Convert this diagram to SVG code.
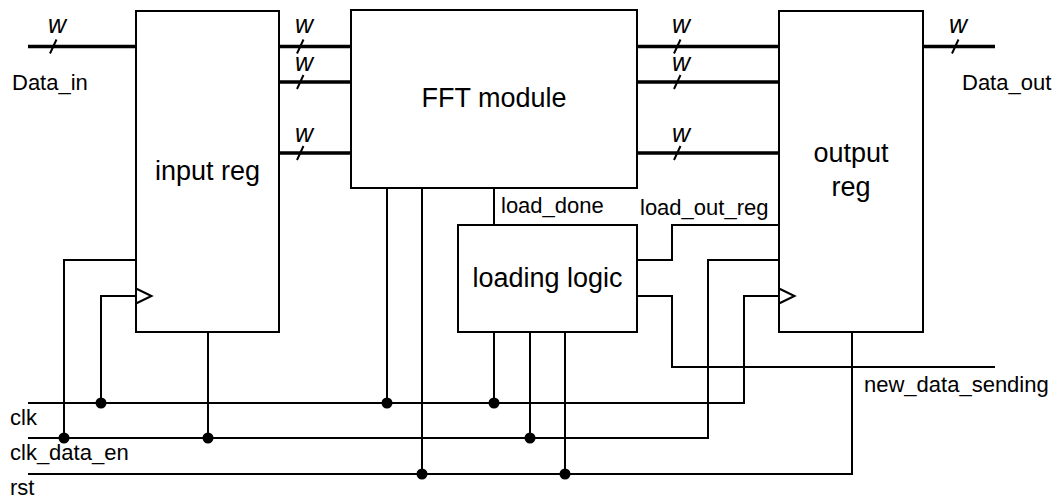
<svg xmlns="http://www.w3.org/2000/svg" width="1064" height="500" viewBox="0 0 1064 500">
<style>
.box{fill:#fff;stroke:#000;stroke-width:2}
.w{fill:none;stroke:#000;stroke-width:2}
.bus{fill:none;stroke:#000;stroke-width:3.5}
.sl{fill:none;stroke:#000;stroke-width:2}
.dot{fill:#000}
.t{font-family:"Liberation Sans",Arial,sans-serif;font-size:22px;fill:#000}
.big{font-family:"Liberation Sans",Arial,sans-serif;font-size:27px;fill:#000;text-anchor:middle}
.wl{font-family:"Liberation Sans",Arial,sans-serif;font-size:25px;font-style:italic;fill:#000;text-anchor:middle}
</style>
<rect width="1064" height="500" fill="#fff"/>
<g id="connectors">
  <!-- data buses -->
  <path class="bus" d="M28,46.5H136M279,46.5H351M279,82H351M279,153H351M637,46.5H779M637,82H779M637,153H779M923,46.5H995"/>
  <!-- bus width slashes -->
  <path class="sl" d="M50,53.5L56.5,39.5M297,53.5L303.5,39.5M297,89L303.5,75M297,160L303.5,146M674,53.5L680.5,39.5M674,89L680.5,75M674,160L680.5,146M952,53.5L958.5,39.5"/>
  <!-- control lines -->
  <path class="w" d="M28,403H744V296H779"/>
  <path class="w" d="M28,438H708V260H779"/>
  <path class="w" d="M28,474H852V332"/>
  <path class="w" d="M136,296H101V403"/>
  <path class="w" d="M136,260H64V438"/>
  <path class="w" d="M208,332V438"/>
  <path class="w" d="M387,188V403"/>
  <path class="w" d="M422,188V474"/>
  <path class="w" d="M494,188V225"/>
  <path class="w" d="M494,332V403"/>
  <path class="w" d="M530,332V438"/>
  <path class="w" d="M565,332V474"/>
  <path class="w" d="M637,260H672V225H779"/>
  <path class="w" d="M637,296H672V367H995"/>
  <!-- junction dots -->
  <circle class="dot" cx="101" cy="403" r="5.5"/>
  <circle class="dot" cx="387" cy="403" r="5.5"/>
  <circle class="dot" cx="494" cy="403" r="5.5"/>
  <circle class="dot" cx="64" cy="438" r="5.5"/>
  <circle class="dot" cx="208" cy="438" r="5.5"/>
  <circle class="dot" cx="530" cy="438" r="5.5"/>
  <circle class="dot" cx="422" cy="474" r="5.5"/>
  <circle class="dot" cx="565" cy="474" r="5.5"/>
</g>
<g id="input-reg">
  <rect class="box" x="136" y="11" width="143" height="321"/>
  <path class="w" d="M136,288.5L151.5,296L136,303.5"/>
  <text class="big" x="207.5" y="180">input reg</text>
</g>
<g id="fft-module">
  <rect class="box" x="351" y="10" width="286" height="178"/>
  <text class="big" x="494" y="107">FFT module</text>
</g>
<g id="output-reg">
  <rect class="box" x="779" y="11" width="144" height="321"/>
  <path class="w" d="M779,288.5L794.5,296L779,303.5"/>
  <text class="big" x="851" y="162">output</text>
  <text class="big" x="851" y="196">reg</text>
</g>
<g id="loading-logic">
  <rect class="box" x="458" y="225" width="179" height="107"/>
  <text class="big" x="547.5" y="287">loading logic</text>
</g>
<g id="labels">
  <text class="wl" x="57" y="33">w</text>
  <text class="wl" x="304" y="33">w</text>
  <text class="wl" x="304" y="71">w</text>
  <text class="wl" x="304" y="142">w</text>
  <text class="wl" x="681" y="33">w</text>
  <text class="wl" x="681" y="71">w</text>
  <text class="wl" x="681" y="142">w</text>
  <text class="wl" x="958" y="33">w</text>
  <text class="t" x="12" y="90">Data_in</text>
  <text class="t" x="962" y="90">Data_out</text>
  <text class="t" x="501" y="213">load_done</text>
  <text class="t" x="640" y="215">load_out_reg</text>
  <text class="t" x="864" y="392">new_data_sending</text>
  <text class="t" x="10" y="425">clk</text>
  <text class="t" x="10" y="460">clk_data_en</text>
  <text class="t" x="10" y="495">rst</text>
</g>
</svg>
